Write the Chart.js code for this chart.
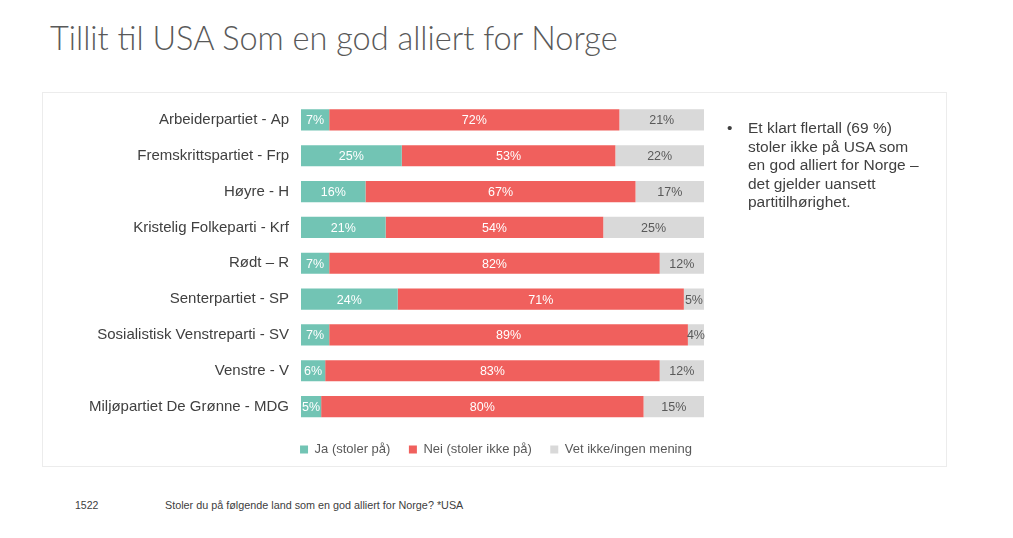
<!DOCTYPE html>
<html>
<head>
<meta charset="utf-8">
<script src="https://cdn.jsdelivr.net/npm/chart.js@4/dist/chart.umd.min.js"></script>
<style>
  html, body { margin:0; padding:0; background:#fff; }
  body { width:1013px; height:538px; position:relative; overflow:hidden; font-family:"Liberation Sans", Arial, sans-serif; }
  #title { position:absolute; left:50px; top:18px; font-family:"Lato", sans-serif; font-weight:300; font-size:32.5px; color:#595959; white-space:nowrap; }
  #box { position:absolute; left:42px; top:92px; width:905px; height:375px; border:1px solid #ececec; box-sizing:border-box; }
  #wrap { position:absolute; left:42px; top:81px; width:908px; height:385px; }
  #note { position:absolute; left:727px; top:119px; width:200px; font-size:15.5px; line-height:18.5px; color:#404040; }
  #note .b { position:absolute; left:0; top:0; }
  #note .t { position:absolute; left:21px; top:0; width:172px; }
  #f1 { position:absolute; left:75px; top:499px; font-size:10.5px; color:#404040; }
  #f2 { position:absolute; left:165px; top:499px; font-size:10.8px; color:#404040; }
</style>
</head>
<body>
<div id="title">Tillit til USA Som en god alliert for Norge</div>
<div id="box"></div>
<div id="wrap"><canvas id="c"></canvas></div>
<div id="note"><span class="b">•</span><div class="t">Et klart flertall (69 %) stoler ikke på USA som en god alliert for Norge – det gjelder uansett partitilhørighet.</div></div>
<div id="f1">1522</div>
<div id="f2">Stoler du på følgende land som en god alliert for Norge? *USA</div>
<script>
const categories = [
  "Arbeiderpartiet - Ap",
  "Fremskrittspartiet - Frp",
  "Høyre - H",
  "Kristelig Folkeparti - Krf",
  "Rødt – R",
  "Senterpartiet - SP",
  "Sosialistisk Venstreparti - SV",
  "Venstre - V",
  "Miljøpartiet De Grønne - MDG"
];
const seriesNames = ["Ja (stoler på)", "Nei (stoler ikke på)", "Vet ikke/ingen mening"];
const ja  = [7, 25, 16, 21, 7, 24, 7, 6, 5];
const nei = [72, 53, 67, 54, 82, 71, 89, 83, 80];
const vet = [21, 22, 17, 25, 12, 5, 4, 12, 15];
const colors = ["#72C4B4", "#F0605D", "#D9D9D9"];
const labelColors = ["#ffffff", "#ffffff", "#595959"];

const labelPlugin = {
  id: 'segLabels',
  afterDatasetsDraw(chart) {
    const ctx = chart.ctx;
    const area = chart.chartArea;
    ctx.save();
    ctx.font = '12.5px "Liberation Sans", Arial, sans-serif';
    ctx.textAlign = 'center';
    ctx.textBaseline = 'middle';
    chart.data.datasets.forEach((ds, di) => {
      const meta = chart.getDatasetMeta(di);
      meta.data.forEach((el, i) => {
        const x1 = Math.min(el.x, area.right);
        const x0 = el.base;
        ctx.fillStyle = labelColors[di];
        ctx.fillText(ds.data[i] + '%', (x0 + x1) / 2, el.y + 1);
      });
    });
    ctx.restore();
  }
};

new Chart(document.getElementById('c'), {
  type: 'bar',
  data: {
    labels: categories,
    datasets: [
      { label: seriesNames[0], data: ja,  backgroundColor: colors[0] },
      { label: seriesNames[1], data: nei, backgroundColor: colors[1] },
      { label: seriesNames[2], data: vet, backgroundColor: colors[2] }
    ]
  },
  options: {
    indexAxis: 'y',
    responsive: true,
    maintainAspectRatio: false,
    animation: false,
    datasets: { bar: { categoryPercentage: 0.59, barPercentage: 1.0 } },
    layout: { padding: 0 },
    scales: {
      x: { stacked: true, min: 0, max: 100, display: false },
      y: {
        stacked: true,
        grid: { display: false, drawTicks: false, tickLength: 0 },
        border: { display: false },
        ticks: { color: '#404040', font: { size: 15, family: '"Liberation Sans", Arial, sans-serif' }, padding: 12 },
        afterFit(scale) { scale.width = 259; }
      },
      yRight: {
        type: 'category',
        position: 'right',
        labels: categories,
        grid: { display: false, drawTicks: false, tickLength: 0 },
        border: { display: false },
        ticks: { display: false },
        afterFit(scale) { scale.width = 246; }
      }
    },
    plugins: {
      legend: {
        position: 'bottom',
        labels: { boxWidth: 8, boxHeight: 8, color: '#595959', font: { size: 13, family: '"Liberation Sans", Arial, sans-serif' }, padding: 18.5 }
      },
      tooltip: { enabled: false }
    }
  },
  plugins: [labelPlugin]
});
</script>
</body>
</html>
